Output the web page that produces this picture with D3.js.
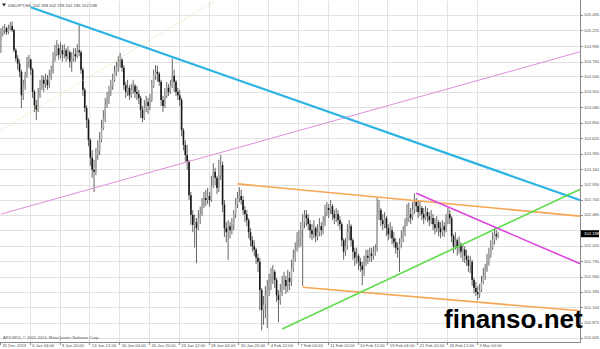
<!DOCTYPE html>
<html><head><meta charset="utf-8">
<script src="https://cdn.jsdelivr.net/npm/d3@7"></script>
<style>html,body{margin:0;padding:0;background:#fff;overflow:hidden}</style>
</head><body><svg id="c" width="600" height="349"></svg>
<script>
const symbolInfo = "USDJPY,H4  102.188 102.199 102.186 102.198";
const copyright = "APX MT4, \u00a9 2001-2014, MetaQuotes Software Corp.";
const watermark = "finanso.net";
const firstOpen = 105.08;
const closes = [
105.19,105.23,105.26,105.20,105.25,105.29,105.23,104.93,104.81,104.73,
104.61,104.26,104.41,104.56,104.76,104.79,104.64,104.31,104.11,104.04,
104.26,104.37,104.49,104.43,104.49,104.41,104.55,104.61,104.79,104.90,
104.96,104.86,104.93,104.87,104.93,104.84,104.90,104.76,104.81,104.87,
104.84,104.93,104.90,104.64,104.34,104.07,103.89,103.59,103.33,103.15,
103.12,103.37,103.44,103.59,103.77,103.92,104.11,104.19,104.31,104.40,
104.49,104.61,104.67,104.76,104.79,104.67,104.41,104.31,104.37,104.26,
104.34,104.40,104.31,104.28,104.22,104.04,103.92,104.07,104.16,104.10,
104.19,104.40,104.55,104.61,104.58,104.46,104.19,104.10,104.25,104.37,
104.31,104.40,104.55,104.46,104.31,104.26,104.19,103.74,103.52,103.37,
103.27,102.77,102.48,102.33,102.37,102.28,102.43,102.49,102.63,102.73,
102.70,102.76,102.70,102.92,103.12,103.03,102.88,103.07,103.22,102.63,
102.28,102.22,102.31,102.25,102.33,102.48,102.63,102.73,102.76,102.70,
102.55,102.49,102.40,102.22,102.10,102.01,101.96,101.84,101.78,101.36,
101.06,101.14,101.28,101.36,101.48,101.57,101.63,101.51,101.28,101.21,
101.33,101.45,101.51,101.42,101.54,101.48,101.69,101.84,101.96,102.10,
102.13,102.25,102.37,102.48,102.43,102.34,102.25,102.19,102.28,102.16,
102.22,102.31,102.25,102.37,102.52,102.58,102.55,102.61,102.49,102.43,
102.49,102.40,102.34,102.10,101.93,102.01,102.22,102.31,102.10,101.93,
101.84,101.87,101.78,101.72,101.66,101.78,101.87,101.84,101.90,101.87,
101.93,101.96,102.48,102.55,102.40,102.34,102.43,102.28,102.19,102.25,
102.13,102.07,101.99,101.96,102.04,102.13,102.22,102.34,102.43,102.49,
102.43,102.55,102.67,102.61,102.52,102.58,102.49,102.43,102.52,102.46,
102.40,102.43,102.34,102.28,102.37,102.28,102.22,102.31,102.25,102.40,
102.49,102.43,102.16,102.01,102.10,101.99,102.04,101.93,101.96,101.87,
101.81,101.72,101.78,101.51,101.39,101.33,101.30,101.36,101.48,101.57,
101.66,101.78,101.88,101.99,102.10,102.19,102.16,102.198];
const highs = [
105.26,105.29,105.32,105.28,105.31,105.35,105.36,105.25,104.96,104.86,
104.79,104.64,104.49,104.61,104.83,104.86,104.81,104.67,104.34,104.19,
104.37,104.49,104.56,104.55,104.58,104.56,104.64,104.70,104.90,105.01,
105.08,105.02,105.05,105.01,105.02,104.96,104.99,104.93,104.90,104.96,
104.96,105.02,105.31,104.93,104.67,104.37,104.11,103.92,103.62,103.44,
103.30,103.47,103.59,103.71,103.89,104.04,104.22,104.31,104.40,104.49,
104.58,104.70,104.76,104.84,104.89,104.81,104.71,104.46,104.49,104.41,
104.43,104.49,104.43,104.40,104.34,104.25,104.10,104.19,104.25,104.22,
104.28,104.49,104.64,104.71,104.70,104.61,104.49,104.25,104.37,104.46,
104.43,104.49,104.81,104.64,104.49,104.37,104.34,104.22,103.77,103.59,
103.52,103.30,102.82,102.55,102.48,102.43,102.55,102.60,102.73,102.82,
102.85,102.88,102.82,103.06,103.25,103.18,103.06,103.30,103.37,103.27,
102.70,102.37,102.40,102.37,102.43,102.55,102.73,102.82,102.89,102.85,
102.76,102.61,102.55,102.43,102.28,102.16,102.10,101.99,101.90,101.84,
101.39,101.27,101.42,101.51,101.60,101.69,101.73,101.66,101.54,101.36,
101.45,101.57,101.63,101.57,101.66,101.63,101.81,101.96,102.07,102.22,
102.25,102.37,102.49,102.55,102.55,102.49,102.40,102.34,102.40,102.31,
102.34,102.43,102.37,102.46,102.63,102.67,102.64,102.70,102.64,102.55,
102.58,102.55,102.46,102.37,102.13,102.13,102.34,102.40,102.34,102.13,
101.99,101.99,101.90,101.84,101.78,101.87,101.96,101.96,101.99,101.99,
102.01,102.04,102.73,102.70,102.58,102.49,102.52,102.46,102.34,102.37,
102.31,102.22,102.13,102.07,102.13,102.25,102.31,102.43,102.64,102.66,
102.58,102.67,102.80,102.73,102.70,102.70,102.61,102.58,102.61,102.58,
102.52,102.55,102.49,102.43,102.46,102.40,102.37,102.40,102.37,102.49,
102.58,102.55,102.46,102.19,102.22,102.13,102.16,102.07,102.04,102.01,
101.96,101.87,101.87,101.81,101.54,101.48,101.42,101.45,101.57,101.69,
101.75,101.90,101.99,102.10,102.22,102.28,102.25,102.22];
const lows = [
104.89,105.14,105.17,105.16,105.17,105.22,105.20,104.90,104.76,104.64,
104.53,104.07,104.19,104.34,104.52,104.67,104.56,104.22,104.01,103.89,
104.01,104.22,104.34,104.31,104.37,104.34,104.37,104.49,104.58,104.76,
104.84,104.79,104.81,104.76,104.81,104.76,104.79,104.67,104.61,104.76,
104.76,104.81,104.84,104.58,104.25,104.01,103.77,103.50,103.21,103.03,
102.82,103.07,103.30,103.37,103.56,103.74,103.86,104.07,104.13,104.25,
104.34,104.46,104.55,104.61,104.67,104.61,104.34,104.22,104.25,104.19,
104.22,104.28,104.22,104.19,104.13,103.92,103.86,103.89,104.01,103.98,
104.04,104.16,104.37,104.49,104.46,104.40,104.10,104.01,104.07,104.22,
104.25,104.28,104.37,104.31,104.25,104.19,104.10,103.65,103.44,103.27,
103.15,102.70,102.33,102.22,101.99,101.76,102.25,102.34,102.46,102.58,
102.61,102.64,102.60,102.67,102.88,102.92,102.79,102.82,103.00,102.52,
102.15,102.07,101.81,102.13,102.19,102.25,102.43,102.58,102.67,102.63,
102.48,102.37,102.31,102.13,102.01,101.93,101.87,101.75,101.63,101.06,
100.76,100.84,100.94,100.79,101.27,101.36,101.45,101.39,101.18,100.88,
101.14,101.27,101.36,101.30,101.33,101.36,101.42,101.63,101.78,101.93,
101.99,102.01,101.42,102.28,102.31,102.25,102.13,102.10,102.13,102.07,
102.10,102.16,102.16,102.19,102.31,102.46,102.43,102.49,102.40,102.34,
102.37,102.31,102.25,102.01,101.81,101.87,101.96,102.10,102.01,101.81,
101.72,101.75,101.66,101.63,101.43,101.57,101.72,101.75,101.78,101.78,
101.81,101.87,101.93,102.40,102.31,102.25,102.28,102.16,102.10,102.13,
102.04,101.99,101.90,101.84,101.63,101.99,102.07,102.16,102.31,102.37,
102.34,102.40,102.49,102.52,102.43,102.46,102.40,102.34,102.40,102.37,
102.31,102.34,102.25,102.19,102.22,102.16,102.13,102.16,102.15,102.22,
102.34,102.34,102.07,101.91,101.96,101.87,101.90,101.84,101.78,101.76,
101.72,101.63,101.61,101.42,101.31,101.27,101.21,101.24,101.33,101.45,
101.51,101.63,101.72,101.84,101.96,102.04,102.10,102.13];
const priceTicks = ["105.455","105.225","104.990","104.760","104.540","104.310","104.080","103.850","103.620","103.390","103.160","102.930","102.700","102.480","102.250","102.020","101.790","101.560","101.330","101.100","100.875","100.645"];
const currentPrice = 102.198;
const dateLabels = ["31 Dec 2013","6 Jan 04:00","8 Jan 20:00","13 Jan 12:00","16 Jan 04:00","20 Jan 20:00","23 Jan 12:00","28 Jan 04:00","30 Jan 20:00","4 Feb 12:00","7 Feb 04:00","11 Feb 20:00","14 Feb 12:00","19 Feb 04:00","21 Feb 20:00","26 Feb 12:00","3 Mar 04:00"];
const dateTickBars = [0,16,32,48,64,80,96,112,128,144,160,176,192,208,224,240,256];
// trend lines: [bar index, price] anchor pairs (drawn as rays to the right)
const blueLine = [[16,105.57],[92,104.83]];
const plumLine = [[0,102.49],[310,104.90]];
const yellowLine = [[0,103.74],[114,105.65]];
const orangeUpper = [[127,102.94],[311,102.46]];
const orangeLower = [[162,101.40],[311,101.05]];
const greenLine = [[151,100.78],[311,102.86]];
const magentaLine = [[223,102.80],[311,101.75]];

const W = 600, H = 349, plotR = 580, plotB = 342;
const svg = d3.select("#c");
svg.append("rect").attr("width", W).attr("height", H).attr("fill", "#fff");

const x = d3.scaleLinear().domain([0, 16]).range([0.93, 30.73]);
const y = d3.scaleLinear().domain([105.455, 100.645]).range([15, 338]);
const font = "'Liberation Sans', Arial, sans-serif";
const fs = 4.2;

svg.append("defs").append("clipPath").attr("id", "clip")
  .append("rect").attr("x", 0).attr("y", 1).attr("width", plotR).attr("height", plotB - 1);

// grid
const grid = svg.append("g").attr("stroke", "#e2e2e2").attr("stroke-width", 1).attr("shape-rendering", "crispEdges");
grid.selectAll("line.h").data(priceTicks).join("line")
  .attr("x1", 0).attr("x2", plotR).attr("y1", d => Math.round(y(+d)) + 0.5).attr("y2", d => Math.round(y(+d)) + 0.5);
grid.selectAll("line.v").data(dateTickBars.slice(1)).join("line")
  .attr("y1", 1).attr("y2", plotB).attr("x1", d => Math.round(x(d)) - 0.5).attr("x2", d => Math.round(x(d)) - 0.5);

// candles
const bars = closes.map((c, i) => {
  const o = i === 0 ? firstOpen : closes[i - 1];
  return { i, o, c, h: Math.max(highs[i], o, c), l: Math.min(lows[i], o, c) };
});
const cg = svg.append("g").attr("clip-path", "url(#clip)");
cg.selectAll("line.w").data(bars).join("line")
  .attr("x1", d => x(d.i)).attr("x2", d => x(d.i))
  .attr("y1", d => y(d.h)).attr("y2", d => y(d.l))
  .attr("stroke", "#555").attr("stroke-width", 0.9);
cg.selectAll("rect.b").data(bars).join("rect")
  .attr("x", d => x(d.i) - 0.8).attr("width", 1.6)
  .attr("y", d => y(Math.max(d.o, d.c)))
  .attr("height", d => Math.max(0.8, Math.abs(y(d.o) - y(d.c))))
  .attr("fill", d => d.c >= d.o ? "#a8a8a8" : "#161616");

// trend lines
const endBar = x.invert(plotR + 2);
function ray(pts) {
  const [[b1, p1], [b2, p2]] = pts;
  const s = (p2 - p1) / (b2 - b1);
  return [[b1, p1], [endBar, p1 + s * (endBar - b1)]];
}
const lg = svg.append("g").attr("clip-path", "url(#clip)").attr("fill", "none");
const lineGen = d3.line().x(d => x(d[0])).y(d => y(d[1]));
const lines = [
  { pts: yellowLine, color: "#efdfae", w: 1, dash: "1,1" },
  { pts: plumLine, color: "#dd90dd", w: 1 },
  { pts: blueLine, color: "#2bb3e3", w: 2.2 },
  { pts: orangeUpper, color: "#f5a653", w: 1.6 },
  { pts: orangeLower, color: "#f5a653", w: 1.6 },
  { pts: greenLine, color: "#5edc4a", w: 1.6 },
  { pts: magentaLine, color: "#e044e0", w: 1.6 }
];
lg.selectAll("path").data(lines).join("path")
  .attr("d", d => lineGen(ray(d.pts)))
  .attr("stroke", d => d.color).attr("stroke-width", d => d.w)
  .attr("stroke-dasharray", d => d.dash || null);

// frame
svg.append("path").attr("d", `M0.5,${plotB + 0.5} H${plotR + 0.5} V0`)
  .attr("stroke", "#888").attr("fill", "none").attr("shape-rendering", "crispEdges");

// price axis (the label hidden behind the current-price box is not drawn)
const cy = y(currentPrice);
const shownTicks = priceTicks.filter(d => Math.abs(y(+d) - cy) > 6);
const pa = svg.append("g");
pa.selectAll("line").data(priceTicks).join("line")
  .attr("x1", plotR).attr("x2", plotR + 3)
  .attr("y1", d => Math.round(y(+d)) + 0.5).attr("y2", d => Math.round(y(+d)) + 0.5)
  .attr("stroke", "#888").attr("shape-rendering", "crispEdges");
pa.selectAll("text").data(shownTicks).join("text")
  .attr("x", plotR + 4).attr("y", d => y(+d)).attr("dy", "0.35em")
  .attr("font-family", font).attr("font-size", fs).attr("fill", "#555").text(d => d);
svg.append("rect").attr("x", plotR + 1).attr("y", cy - 3.5).attr("width", W - plotR - 2).attr("height", 7).attr("fill", "#000");
svg.append("text").attr("x", plotR + 4).attr("y", cy).attr("dy", "0.35em")
  .attr("font-family", font).attr("font-size", fs).attr("fill", "#fff").text(currentPrice.toFixed(3));

// date axis
const da = svg.append("g");
da.selectAll("line").data(dateTickBars).join("line")
  .attr("x1", d => Math.round(x(d)) - 0.5).attr("x2", d => Math.round(x(d)) - 0.5)
  .attr("y1", plotB).attr("y2", plotB + 3)
  .attr("stroke", "#888").attr("shape-rendering", "crispEdges");
da.selectAll("text").data(dateLabels).join("text")
  .attr("x", (d, i) => x(dateTickBars[i]) + 1.5).attr("y", 347.3)
  .attr("font-family", font).attr("font-size", fs).attr("fill", "#555").text(d => d);

// header / footer texts
svg.append("path").attr("d", "M2,3.5 L6,3.5 L4,6.5 Z").attr("fill", "#222");
svg.append("text").attr("x", 8).attr("y", 6.5).attr("font-family", font).attr("font-size", fs)
  .attr("fill", "#444").attr("xml:space", "preserve").text(symbolInfo);
svg.append("text").attr("x", 3).attr("y", 338.5).attr("font-family", font).attr("font-size", 4.1)
  .attr("fill", "#555").text(copyright);

// watermark
svg.append("text").attr("x", 444).attr("y", 328).attr("font-family", font)
  .attr("font-weight", "bold").attr("font-size", 26).attr("fill", "#000").text(watermark);
</script></body></html>
